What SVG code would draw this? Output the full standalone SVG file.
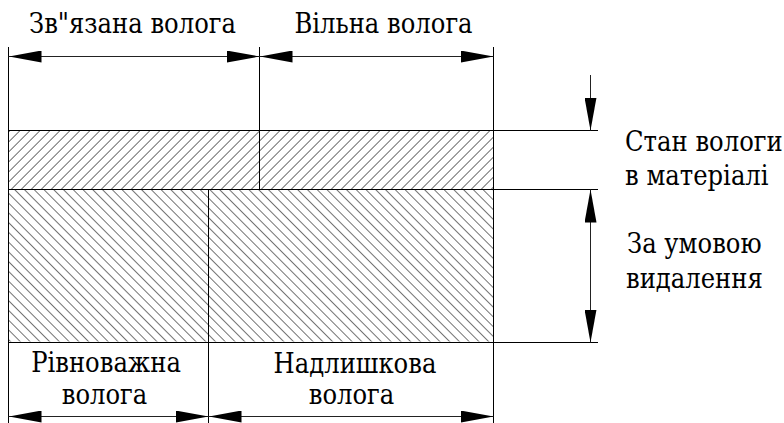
<svg xmlns="http://www.w3.org/2000/svg" width="784" height="423" viewBox="0 0 784 423">
<style>
.ln{stroke:#000;stroke-width:1;fill:none}
.dim{stroke:#222;stroke-width:1;fill:none;marker-start:url(#ah);marker-end:url(#ah)}
.dime{stroke:#222;stroke-width:1;fill:none;marker-end:url(#ah)}
.c{text-anchor:middle}
</style>
<defs>
<marker id="ah" viewBox="0 0 33 12" refX="33" refY="6" markerWidth="33" markerHeight="12" markerUnits="userSpaceOnUse" orient="auto-start-reverse">
<path d="M0,0 L33,6 L0,12 z" fill="#000"/>
</marker>
<pattern id="hf" patternUnits="userSpaceOnUse" width="7.07" height="20" patternTransform="rotate(45)">
<line x1="0" y1="-5" x2="0" y2="25" stroke="#000" stroke-width="1.1"/>
</pattern>
<pattern id="hb" patternUnits="userSpaceOnUse" width="6.9" height="20" patternTransform="rotate(-45)">
<line x1="0" y1="-5" x2="0" y2="25" stroke="#000" stroke-width="1.1"/>
</pattern>
</defs>
<g id="bands">
<rect id="upper-band" x="8.5" y="130.5" width="484.5" height="58.5" fill="url(#hf)"/>
<rect id="lower-band" x="8.5" y="189.5" width="484.5" height="152" fill="url(#hb)"/>
</g>
<g id="lines">
<line class="ln" x1="8.5" y1="47" x2="8.5" y2="423"/>
<line class="ln" x1="493.5" y1="47" x2="493.5" y2="423"/>
<line class="ln" x1="259.5" y1="47" x2="259.5" y2="189"/>
<line class="ln" x1="208.5" y1="189" x2="208.5" y2="423"/>
<line class="ln" x1="8" y1="130.5" x2="598" y2="130.5"/>
<line class="ln" x1="8" y1="189.5" x2="598" y2="189.5"/>
<line class="ln" x1="8" y1="342.5" x2="598" y2="342.5"/>
</g>
<g id="connectors">
<line class="dim" x1="8.5" y1="56.5" x2="259.5" y2="56.5"/>
<line class="dim" x1="259.5" y1="56.5" x2="493.5" y2="56.5"/>
<line class="dime" x1="590.5" y1="75" x2="590.5" y2="130.5"/>
<line class="dim" x1="590.5" y1="189.5" x2="590.5" y2="342.5"/>
<line class="dim" x1="8.5" y1="416.5" x2="208.5" y2="416.5"/>
<line class="dim" x1="208.5" y1="416.5" x2="493.5" y2="416.5"/>
</g>
<g id="label-bound"><text class="c" font-family="DejaVu Serif" font-size="27" transform="translate(132.5,33) scale(0.9,1)">Зв"язана волога</text></g>
<g id="label-free"><text class="c" font-family="DejaVu Serif" font-size="27" transform="translate(383.5,33) scale(0.9,1)">Вільна волога</text></g>
<g id="label-state"><text font-family="DejaVu Serif" font-size="27" transform="translate(625,151) scale(0.9,1)">Стан вологи</text><text font-family="DejaVu Serif" font-size="27" transform="translate(625,185) scale(0.9,1)">в матеріалі</text></g>
<g id="label-removal"><text font-family="DejaVu Serif" font-size="27" transform="translate(627,253) scale(0.9,1)">За умовою</text><text font-family="DejaVu Serif" font-size="27" transform="translate(626,288) scale(0.9,1)">видалення</text></g>
<g id="label-equilibrium"><text class="c" font-family="DejaVu Serif" font-size="27" transform="translate(106,372) scale(0.9,1)">Рівноважна</text><text class="c" font-family="DejaVu Serif" font-size="27" transform="translate(104.5,404) scale(0.9,1)">волога</text></g>
<g id="label-excess"><text class="c" font-family="DejaVu Serif" font-size="27" transform="translate(355,373) scale(0.9,1)">Надлишкова</text><text class="c" font-family="DejaVu Serif" font-size="27" transform="translate(351.5,404) scale(0.9,1)">волога</text></g>
</svg>
